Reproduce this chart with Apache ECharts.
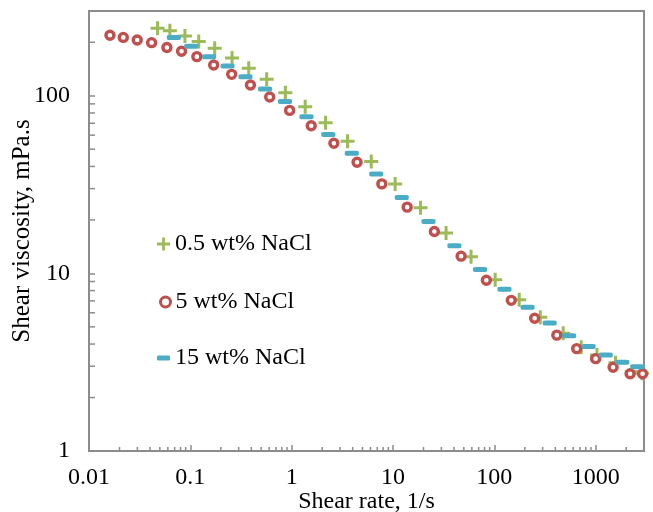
<!DOCTYPE html>
<html>
<head>
<meta charset="utf-8">
<script src="https://cdn.jsdelivr.net/npm/echarts@6/dist/echarts.min.js"></script>
<style>html,body{margin:0;padding:0;background:#fff;}#c{width:653px;height:512px;}</style>
</head>
<body>
<div id="c"></div>
<script>
// ---- data ----
const seriesNames = ['0.5 wt% NaCl', '5 wt% NaCl', '15 wt% NaCl'];

const rate05 = [0.0475,0.0628,0.0884,0.121,0.174,0.258,0.377,0.567,0.867,1.36,2.16,3.56,6.10,10.5,18.7,33.4,58.9,102,176,284,478,720,1030,1570,2275,2870];
const visc05 = [240,232,217,202,185,163,143,124,104,86.7,70.5,55.4,42.6,31.9,23.4,16.9,12.4,9.22,7.11,5.67,4.60,3.84,3.47,3.14,2.79,2.74];

const rate5 = [0.0161,0.0218,0.0299,0.0415,0.0587,0.0819,0.116,0.170,0.256,0.392,0.607,0.955,1.56,2.61,4.42,7.76,13.8,25.6,47.0,83.4,147,250,414,650,1000,1486,2188,2904];
const visc5 = [219,213,206,199,187,178,166,149,132,115,98.3,82.7,67.8,54.0,42.2,31.9,23.6,17.2,12.5,9.14,7.05,5.59,4.49,3.77,3.31,2.96,2.72,2.72];

const rate15 = [0.0687,0.102,0.153,0.233,0.350,0.546,0.859,1.40,2.30,3.92,6.83,12.2,22.4,40.4,72.3,126,213,352,548,851,1259,1833,2588];
const visc15 = [213,190,166,147,128,109,92.9,76.2,60.6,47.4,36.3,26.7,19.6,14.3,10.5,8.13,6.44,5.26,4.46,3.87,3.47,3.16,2.98];

const xTickValues = [0.01, 0.1, 1, 10, 100, 1000];
const xTickLabels = ['0.01', '0.1', '1', '10', '100', '1000'];
const yTickValues = [1, 10, 100];
const yTickLabels = ['1', '10', '100'];
const xMin = 0.01, xMax = 3000, yMin = 1, yMax = 300;

// ---- helpers ----
function zip(a, b) { return a.map((v, i) => [v, b[i]]); }
function minorValues(lo, hi) {
  const out = [];
  for (let d = Math.floor(Math.log10(lo)); d <= Math.ceil(Math.log10(hi)); d++) {
    const base = Math.pow(10, d);
    for (let m = 2; m <= 9; m++) {
      const v = m * base;
      if (v > lo && v < hi) out.push(v);
    }
  }
  return out;
}
function labelFor(values, labels) {
  return function (v) {
    for (let i = 0; i < values.length; i++) {
      if (Math.abs(Math.log10(v) - Math.log10(values[i])) < 1e-6) return labels[i];
    }
    return '';
  };
}

const FONT = 'Liberation Serif';
const AX = '#8c8c8c';
const plusPath = 'path://M5.5,0H8.5V5.5H14V8.5H8.5V14H5.5V8.5H0V5.5H5.5Z';

const xMinor = minorValues(xMin, xMax);
const yMinor = minorValues(yMin, yMax);

const chart = echarts.init(document.getElementById('c'), null, { renderer: 'canvas' });

const legendText = { fontFamily: FONT, fontSize: 24, color: '#000' };

chart.setOption({
  animation: false,
  backgroundColor: '#fff',
  grid: { left: 89, right: 9, top: 11, bottom: 61, containLabel: false, outerBoundsMode: 'none', show: true, borderColor: AX, borderWidth: 2, backgroundColor: 'transparent' },
  xAxis: {
    type: 'log', min: xMin, max: xMax, logBase: 10,
    axisLine: { show: true, lineStyle: { color: AX, width: 2 } },
    axisTick: { show: true, inside: true, length: 6, lineStyle: { color: AX, width: 1.5 } },
    splitLine: { show: false },
    axisLabel: { formatter: labelFor(xTickValues, xTickLabels), fontFamily: FONT, fontSize: 24, color: '#000', margin: 15 },
    name: 'Shear rate, 1/s', nameLocation: 'middle', nameGap: 39, nameMoveOverlap: false,
    nameTextStyle: { fontFamily: FONT, fontSize: 24, color: '#000' }
  },
  yAxis: {
    type: 'log', min: yMin, max: yMax, logBase: 10,
    axisLine: { show: true, lineStyle: { color: AX, width: 2 } },
    axisTick: { show: true, inside: true, length: 6, lineStyle: { color: AX, width: 1.5 } },
    splitLine: { show: false },
    axisLabel: { formatter: labelFor(yTickValues, yTickLabels), fontFamily: FONT, fontSize: 24, color: '#000', margin: 19, align: 'right', padding: [5, 0, 0, 0] },
    name: 'Shear viscosity, mPa.s', nameLocation: 'middle', nameGap: 54, nameMoveOverlap: false,
    nameTextStyle: { fontFamily: FONT, fontSize: 25, color: '#000' }
  },
  legend: [
    { data: [seriesNames[0]], left: 152, top: 227, orient: 'vertical', itemWidth: 13, itemHeight: 13, itemGap: 4, textStyle: legendText },
    { data: [{ name: seriesNames[1], itemStyle: { borderWidth: 3 } }], left: 154, top: 285, orient: 'vertical', itemWidth: 10, itemHeight: 10, itemGap: 4, textStyle: legendText },
    { data: [seriesNames[2]], left: 152, top: 341, orient: 'vertical', itemWidth: 13, itemHeight: 5, itemGap: 2, textStyle: legendText }
  ],
  series: [
    {
      type: 'custom', name: 'xminor', silent: true, clip: false, z: 1,
      data: xMinor.map(v => [v, yMin]),
      renderItem: function (params, api) {
        const p = api.coord([api.value(0), api.value(1)]);
        return { type: 'line', shape: { x1: p[0], y1: p[1], x2: p[0], y2: p[1] - 4 }, style: { stroke: AX, lineWidth: 1.5 } };
      }
    },
    {
      type: 'custom', name: 'yminor', silent: true, clip: false, z: 1,
      data: yMinor.map(v => [xMin, v]),
      renderItem: function (params, api) {
        const p = api.coord([api.value(0), api.value(1)]);
        return { type: 'line', shape: { x1: p[0], y1: p[1], x2: p[0] + 6, y2: p[1] }, style: { stroke: AX, lineWidth: 1.5 } };
      }
    },
    {
      name: seriesNames[0], type: 'scatter', z: 3,
      symbol: plusPath, symbolSize: 14,
      itemStyle: { color: '#9bbb59', opacity: 1 },
      data: zip(rate05, visc05)
    },
    {
      name: seriesNames[1], type: 'scatter', z: 4,
      symbol: 'circle', symbolSize: 8,
      itemStyle: { color: '#ffffff', borderColor: '#c0504d', borderWidth: 3.4, opacity: 1 },
      data: zip(rate5, visc5)
    },
    {
      name: seriesNames[2], type: 'scatter', z: 5,
      symbol: 'roundRect', symbolSize: [14, 5],
      itemStyle: { color: '#4bacc6', opacity: 1 },
      data: zip(rate15, visc15)
    }
  ]
});
</script>
</body>
</html>
